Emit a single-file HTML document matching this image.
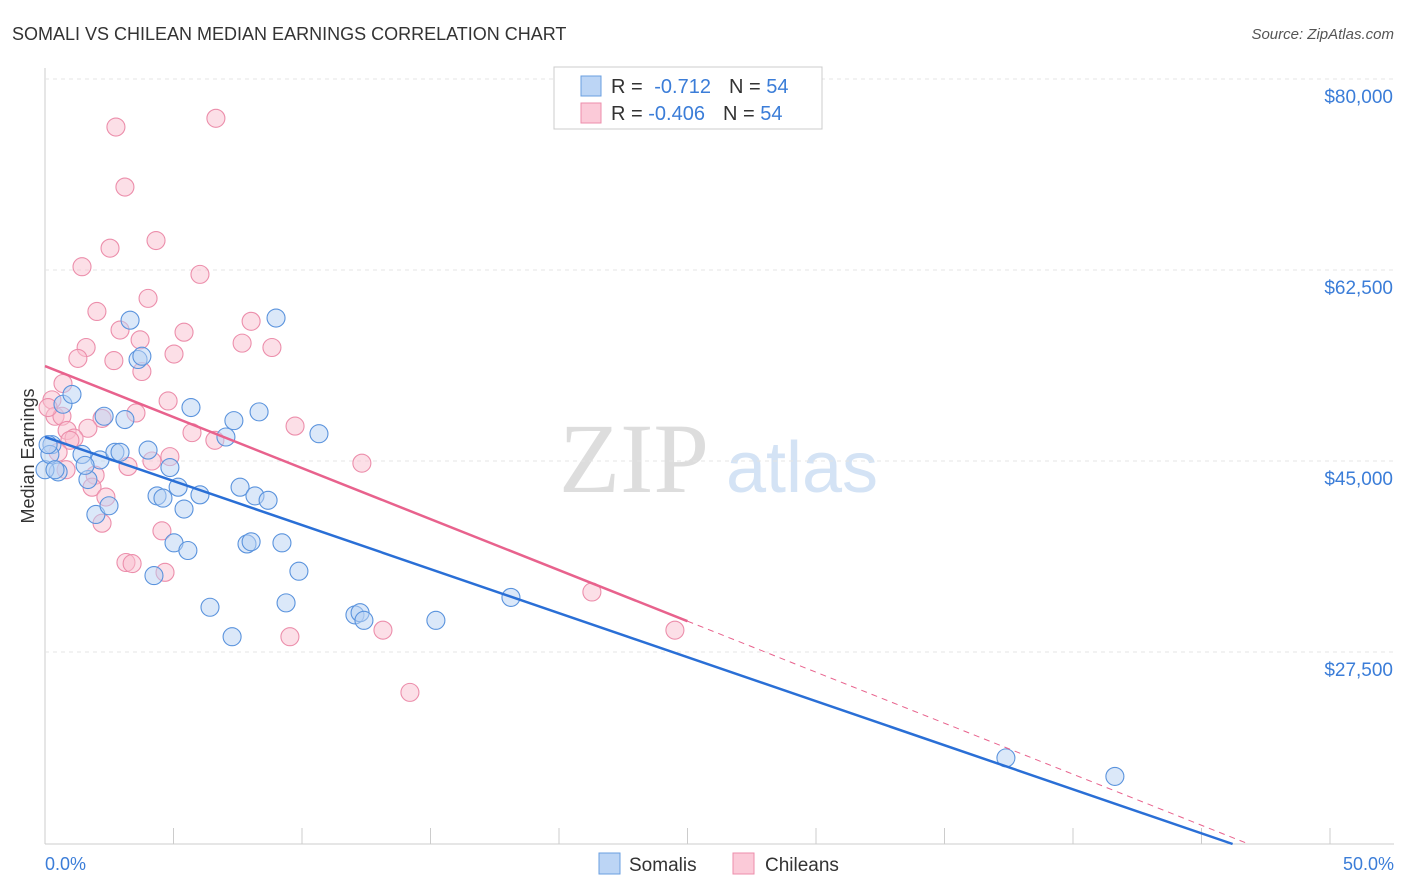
<!DOCTYPE html>
<html><head><meta charset="utf-8"><style>
body{margin:0;background:#fff;font-family:"Liberation Sans",sans-serif}
svg{display:block}
</style></head><body>
<svg id="c" width="1406" height="892" xmlns="http://www.w3.org/2000/svg">
<text x="12" y="40" font-size="18" fill="#333">SOMALI VS CHILEAN MEDIAN EARNINGS CORRELATION CHART</text>
<text x="1394" y="39" font-size="15" fill="#555" text-anchor="end" font-style="italic">Source: ZipAtlas.com</text>
<text x="634" y="492" font-size="100" fill="#ddd" text-anchor="middle" font-family="Liberation Serif,serif">ZIP</text>
<text x="802" y="492" font-size="72" fill="#d4e3f5" text-anchor="middle">atlas</text>
<g id="grid"></g><g id="marks"></g>
<text transform="translate(34,456) rotate(-90)" font-size="18" fill="#333" text-anchor="middle">Median Earnings</text>
<text x="45" y="870" font-size="18" fill="#3b7dd8">0.0%</text>
<text x="1394" y="870" font-size="18" fill="#3b7dd8" text-anchor="end">50.0%</text>
<g>
<rect x="554" y="67" width="268" height="62" fill="#fff" stroke="#ccc"/>
<rect x="581" y="76" width="20" height="20" fill="#bcd5f5" stroke="#6a9fe0"/>
<rect x="581" y="103" width="20" height="20" fill="#fbcad8" stroke="#ec8eab"/>
<text x="611" y="93" font-size="20" fill="#333">R = <tspan fill="#3b7dd8" dx="6">-0.712</tspan><tspan dx="18">N = </tspan><tspan fill="#3b7dd8">54</tspan></text>
<text x="611" y="120" font-size="20" fill="#333">R = <tspan fill="#3b7dd8">-0.406</tspan><tspan dx="18">N = </tspan><tspan fill="#3b7dd8">54</tspan></text>
</g>
<g>
<rect x="599" y="853" width="21" height="21" fill="#bcd5f5" stroke="#6a9fe0"/>
<text x="629" y="871" font-size="19" fill="#333">Somalis</text>
<rect x="733" y="853" width="21" height="21" fill="#fbcad8" stroke="#ec8eab"/>
<text x="765" y="871" font-size="19" fill="#333">Chileans</text>
</g>
</svg>
<script>
const yTicks=[80000,62500,45000,27500];
const yTickLabels=["$80,000","$62,500","$45,000","$27,500"];
const somaliX=[0.27,0.51,0.70,1.05,1.44,1.67,1.98,2.14,2.30,2.49,2.72,2.92,3.11,3.31,3.62,3.77,4.01,4.24,4.36,4.59,4.86,5.02,5.18,5.41,5.56,5.68,6.03,6.42,7.04,7.28,7.35,7.59,7.86,8.02,8.17,8.33,8.68,8.99,9.22,9.38,9.88,10.66,12.06,12.26,12.41,15.21,18.13,37.39,41.63,0.0,0.19,0.12,0.39,1.56];
const somaliY=[46.5,44.0,50.2,51.1,45.6,43.3,40.1,45.1,49.1,40.9,45.8,45.8,48.8,57.9,54.3,54.6,46.0,34.5,41.8,41.6,44.4,37.5,42.6,40.6,36.8,49.9,41.9,31.6,47.2,28.9,48.7,42.6,37.4,37.6,41.8,49.5,41.4,58.1,37.5,32.0,34.9,47.5,30.9,31.1,30.4,30.4,32.5,17.8,16.1,44.2,45.6,46.5,44.2,44.6];
const chileX=[2.76,6.65,3.11,4.32,2.53,1.44,6.03,4.01,2.02,2.92,5.41,8.02,3.70,7.67,8.83,1.60,1.28,2.68,5.02,3.77,0.70,0.27,0.39,0.66,3.54,2.22,4.79,0.86,1.67,1.13,5.72,6.61,9.73,4.16,4.86,0.82,1.95,3.23,1.83,2.37,2.22,4.55,3.15,3.39,4.67,12.33,9.53,13.15,14.20,21.28,24.51,0.12,0.97,0.51];
const chileY=[75.6,76.4,70.1,65.2,64.5,62.8,62.1,59.9,58.7,57.0,56.8,57.8,56.1,55.8,55.4,55.4,54.4,54.2,54.8,53.2,52.1,50.6,49.1,49.1,49.4,48.9,50.5,47.8,48.0,47.1,47.6,46.9,48.2,45.0,45.4,44.2,43.7,44.5,42.6,41.7,39.3,38.6,35.7,35.6,34.8,44.8,28.9,29.5,23.8,33.0,29.5,49.9,46.9,45.8];
const somaliTrend=[47.2,-0.807];
const chileTrend=[53.7,-0.935];
const chileSolidEnd=25.0;
const NS="http://www.w3.org/2000/svg";
const X0=45,X1=1330,YT=79,PX=191/17.5;
const xs=v=>X0+(X1-X0)*v/50;
const ys=v=>YT+(80-v)*PX;
const BOT=844;
function mk(tag,attrs,parent){const e=document.createElementNS(NS,tag);for(const k in attrs)e.setAttribute(k,attrs[k]);parent.appendChild(e);return e;}
const grid=document.getElementById('grid'),marks=document.getElementById('marks');
const ax=mk('line',{x1:45,y1:68,x2:45,y2:844,stroke:'#ccc'},grid);


const bx=mk('line',{x1:45,y1:844,x2:1394,y2:844,stroke:'#ccc'},grid);


for(let i=0;i<=10;i++){const t=mk('line',{x1:xs(i*5),y1:828,x2:xs(i*5),y2:844,stroke:'#ccc'},grid);

}
yTicks.forEach((v,i)=>{const y=ys(v/1000);
const g=mk('line',{x1:45,y1:y,x2:1394,y2:y,stroke:'#e4e4e4','stroke-dasharray':'4,4'},grid);


const t=mk('text',{x:1393,y:y+24,'font-size':19,fill:'#3b7dd8','text-anchor':'end'},grid);t.textContent=yTickLabels[i];

});
const vBot=80-(BOT-YT)/PX;
function pts(X,Y,fill,stroke,name){X.forEach((x,i)=>{const c=mk('circle',{cx:xs(x),cy:ys(Y[i]),r:9,fill:fill,'fill-opacity':0.5,stroke:stroke,'stroke-width':1.1},marks);

});}
pts(chileX,chileY,'#f9c0d0','#ec8eab','chilean-point');
pts(somaliX,somaliY,'#b8d2f4','#5a93dd','somali-point');
function endX(tr){return (vBot-tr[0])/tr[1];}
const sx=endX(somaliTrend);
const sl=mk('line',{x1:xs(0),y1:ys(somaliTrend[0]),x2:xs(sx),y2:ys(vBot),stroke:'#2a6fd6','stroke-width':2.5},marks);


const cl=mk('line',{x1:xs(0),y1:ys(chileTrend[0]),x2:xs(chileSolidEnd),y2:ys(chileTrend[0]+chileTrend[1]*chileSolidEnd),stroke:'#e8628d','stroke-width':2.5},marks);


const cx=Math.min(50,endX(chileTrend));
const cd=mk('line',{x1:xs(chileSolidEnd),y1:ys(chileTrend[0]+chileTrend[1]*chileSolidEnd),x2:xs(cx),y2:ys(chileTrend[0]+chileTrend[1]*cx),stroke:'#e8628d','stroke-width':1,'stroke-dasharray':'6,5'},marks);


</script>
</body></html>
